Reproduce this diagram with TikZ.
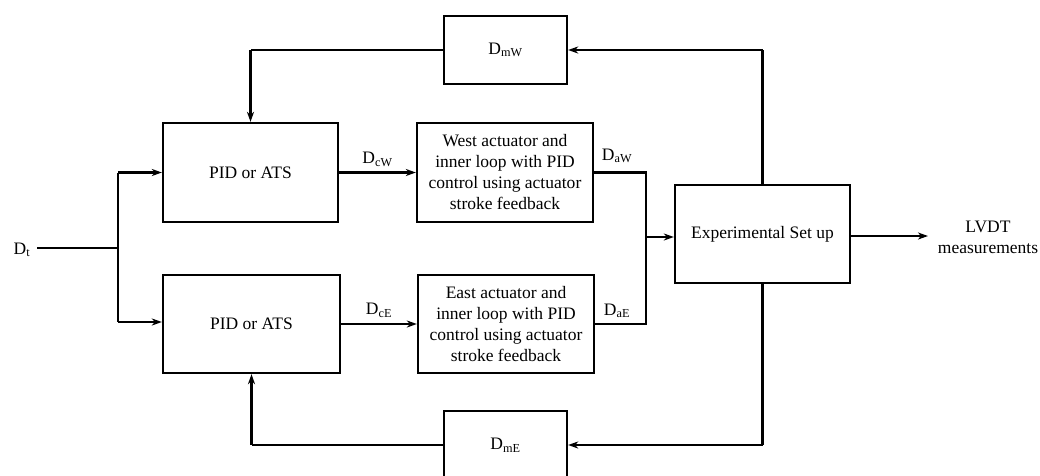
\documentclass[tikz,border=0pt]{standalone}
\usepackage{fontspec}
\setmainfont{Liberation Serif}
\usetikzlibrary{arrows.meta,positioning}
\begin{document}
\begin{tikzpicture}[x=1pt,y=-1pt,
  every node/.style={font=\fontsize{17.5}{21}\selectfont},
  blk/.style={draw,line width=2.3pt,inner sep=0pt,align=center},
  conn/.style={line width=2.6pt},
  arr/.style={conn,-{Stealth[length=10pt,width=7pt,inset=3pt]}},
  lbl/.style={inner sep=0pt}]
\useasboundingbox (0,0) rectangle (1040,475);
\clip (0,0) rectangle (1040,475);
\node[blk,minimum width=175pt,minimum height=99pt] (pidW) at (250.5,172.5) {PID or ATS};
\node[blk,minimum width=177pt,minimum height=98pt] (pidE) at (251.5,324) {PID or ATS};
\node[blk,minimum width=176pt,minimum height=99pt] (west) at (505,172.5) {West actuator and\\inner loop with PID\\control using actuator\\stroke feedback};
\node[blk,minimum width=176pt,minimum height=98pt] (east) at (506,324) {East actuator and\\inner loop with PID\\control using actuator\\stroke feedback};
\node[blk,minimum width=123pt,minimum height=68pt] (dmW) at (505.5,50) {D\textsubscript{mW}};
\node[blk,minimum width=123pt,minimum height=68pt] (dmE) at (505.5,445) {D\textsubscript{mE}};
\node[blk,minimum width=175pt,minimum height=98pt] (exp) at (762.5,234) {Experimental Set up};
\node[lbl] (dt) at (22,250) {D\textsubscript{t}};
\node[lbl,align=center] (lvdt) at (988,237) {LVDT\\measurements};
\coordinate (jin) at (118,248);
\coordinate (jout) at (646,237);
\coordinate (outend) at (928,236);
% input split
\draw[conn] (dt.east) ++(7,-2) coordinate (dtst) -- (jin);
\draw[conn] (jin) -- (118,172.5);
\draw[arr] (118,172.5) -- (pidW.west);
\draw[conn] (jin) -- (118,322);
\draw[arr] (118,322) -- (pidE.west |- 0,322);
% controller to actuators
\draw[arr] (pidW.east) -- node[lbl,above=5pt] (dcw) {D\textsubscript{cW}} (west.west);
\draw[arr] (pidE.east) -- node[lbl,above=5pt] (dce) {D\textsubscript{cE}} (east.west);
% actuators to setup
\draw[conn] (west.east) -- (jout |- west.east) -- (jout |- east.east) -- (east.east);
\draw[arr] (jout) -- (exp.west |- jout);
\node[lbl] (daw) at (617,156) {D\textsubscript{aW}};
\node[lbl] (dae) at (617,311) {D\textsubscript{aE}};
% output
\draw[arr] (exp.east |- outend) -- (outend);
% feedback west
\draw[conn] (exp.north) -- (exp.north |- dmW.east);
\draw[arr] (exp.north |- dmW.east) -- (dmW.east);
\draw[conn] (dmW.west) -- (pidW.north |- dmW.west);
\draw[arr] (pidW.north |- dmW.west) -- (pidW.north);
% feedback east
\draw[conn] (exp.south) -- (exp.south |- dmE.east);
\draw[arr] (exp.south |- dmE.east) -- (dmE.east);
\draw[conn] (dmE.west) -- (pidE.south |- dmE.west);
\draw[arr] (pidE.south |- dmE.west) -- (pidE.south);
\end{tikzpicture}
\end{document}
